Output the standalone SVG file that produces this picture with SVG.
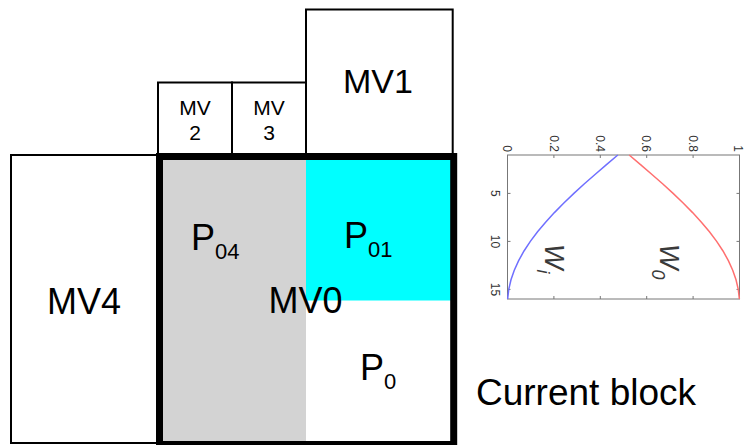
<svg xmlns="http://www.w3.org/2000/svg" width="744" height="445" viewBox="0 0 744 445">
<style>
.box{fill:#fff;stroke:#000;stroke-width:2}
.t{font-family:"Liberation Sans",Arial,sans-serif;fill:#000}
.ax{fill:none;stroke:#777;stroke-width:1}
.tk{font-family:"Liberation Sans",Arial,sans-serif;font-size:12px;fill:#333}
.wl{font-family:"Liberation Sans",Arial,sans-serif;font-style:italic;fill:#3a3a3a}
</style>
<rect width="744" height="445" fill="#fff"/>
<g id="mv4">
<rect class="box" x="11" y="155" width="146" height="288"/>
<text class="t" x="84" y="314" font-size="36" text-anchor="middle">MV4</text>
</g>
<g id="mv2">
<rect class="box" x="158" y="82.5" width="74" height="73"/>
<text class="t" x="195" y="115" font-size="21" text-anchor="middle">MV</text>
<text class="t" x="195" y="140" font-size="21" text-anchor="middle">2</text>
</g>
<g id="mv3">
<rect class="box" x="232" y="82.5" width="74" height="73"/>
<text class="t" x="269" y="115" font-size="21" text-anchor="middle">MV</text>
<text class="t" x="269" y="140" font-size="21" text-anchor="middle">3</text>
</g>
<g id="mv1">
<rect class="box" x="306" y="9.5" width="146.7" height="146"/>
<text class="t" x="378" y="93" font-size="34" text-anchor="middle">MV1</text>
</g>
<g id="current-block">
<rect x="159.5" y="156.5" width="146.5" height="288" fill="#D3D3D3"/>
<rect x="306" y="156.5" width="147.7" height="144" fill="#00FFFF"/>
<rect x="159.5" y="156.5" width="294.2" height="288" fill="none" stroke="#000" stroke-width="7"/>
<text class="t" x="191" y="250" font-size="36">P<tspan font-size="22" dy="8.5">04</tspan></text>
<text class="t" x="344" y="248" font-size="36">P<tspan font-size="22" dy="8.5">01</tspan></text>
<text class="t" x="360" y="380" font-size="36">P<tspan font-size="22" dy="8.5">0</tspan></text>
<text class="t" x="305.5" y="313" font-size="36" text-anchor="middle">MV0</text>
</g>
<g id="caption">
<text class="t" x="476" y="405" font-size="37">Current block</text>
</g>
<g id="weight-chart">
<rect class="ax" x="507.5" y="155" width="232" height="144"/>
<path class="ax" d="M507.5 193.4h3M507.5 241.4h3M507.5 289.4h3M739.5 193.4h-3M739.5 241.4h-3M739.5 289.4h-3M553.9 155v3M600.3 155v3M646.7 155v3M693.1 155v3M553.9 299v-3M600.3 299v-3M646.7 299v-3M693.1 299v-3"/>
<g class="tk" text-anchor="end">
<text transform="translate(507.5,152) rotate(90)" dy="4.3">0</text>
<text transform="translate(553.9,152) rotate(90)" dy="4.3">0.2</text>
<text transform="translate(600.3,152) rotate(90)" dy="4.3">0.4</text>
<text transform="translate(646.7,152) rotate(90)" dy="4.3">0.6</text>
<text transform="translate(693.1,152) rotate(90)" dy="4.3">0.8</text>
<text transform="translate(738,152) rotate(90)" dy="4.3">1</text>
</g>
<g class="tk" text-anchor="middle">
<text transform="translate(491,193.4) rotate(90)">5</text>
<text transform="translate(491,241.4) rotate(90)">10</text>
<text transform="translate(491,289.4) rotate(90)">15</text>
</g>
<polyline fill="none" stroke="#6f6fff" stroke-width="1.5" points="617.81,155 606.48,164.6 595.31,174.2 584.42,183.8 573.90,193.4 563.86,203 554.40,212.6 545.60,222.2 537.55,231.8 530.33,241.4 524.00,251 518.64,260.6 514.28,270.2 510.98,279.8 508.76,289.4 507.64,299"/>
<polyline fill="none" stroke="#ff6f6f" stroke-width="1.5" points="629.19,155 640.52,164.6 651.69,174.2 662.58,183.8 673.10,193.4 683.14,203 692.60,212.6 701.40,222.2 709.45,231.8 716.67,241.4 723.00,251 728.36,260.6 732.72,270.2 736.02,279.8 738.25,289.4 739.36,299"/>
<text class="wl" transform="translate(545,244) rotate(90)" font-size="27">W<tspan font-size="18" dy="8">i</tspan></text>
<text class="wl" transform="translate(660,244) rotate(90)" font-size="27">W<tspan font-size="18" dy="8">0</tspan></text>
</g>
</svg>
